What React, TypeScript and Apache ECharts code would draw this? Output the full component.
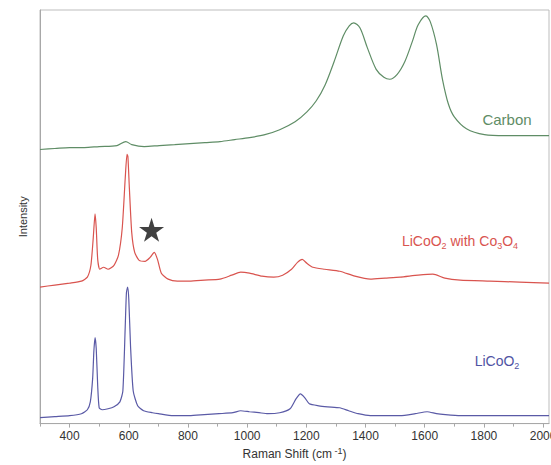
import React, { useEffect, useRef } from 'react';
import * as echarts from 'echarts';

const xTickValues = [400, 600, 800, 1000, 1200, 1400, 1600, 1800, 2000];
const xMinorTickValues = [300, 500, 700, 900, 1100, 1300, 1500, 1700, 1900];

const licooShift = [300, 350, 400, 440, 460, 470, 478, 482, 486, 490, 495, 500, 510, 530, 550, 570, 580, 588, 592, 596, 600, 606, 615, 630, 650, 680, 700, 750, 805, 855, 905, 952, 978, 1008, 1040, 1070, 1110, 1145, 1165, 1180, 1195, 1210, 1242, 1272, 1313, 1343, 1375, 1416, 1466, 1517, 1568, 1608, 1640, 1670, 1720, 1820, 1920, 2020];
const licooIntensity = [6, 7, 8, 10, 14, 22, 46, 73, 87, 76, 38, 16, 14, 15, 17, 22, 33, 98, 132, 138, 126, 78, 33, 18, 13, 11, 10, 8, 8, 9, 10, 11, 13, 12, 11, 10, 11, 15, 25, 30, 26, 20, 18, 17, 16, 13, 10, 8, 8, 8, 10, 12, 10, 9, 8, 8, 8, 8];

const mixShift = [300, 350, 400, 440, 460, 472, 480, 486, 490, 495, 502, 515, 530, 550, 565, 578, 588, 594, 597, 602, 610, 620, 635, 655, 672, 686, 697, 710, 733, 764, 805, 856, 908, 948, 978, 1008, 1050, 1090, 1120, 1150, 1170, 1186, 1202, 1222, 1262, 1313, 1364, 1416, 1466, 1517, 1578, 1628, 1668, 1720, 1820, 1920, 2020];
const mixIntensity = [138, 140, 142, 144, 148, 160, 188, 212, 198, 166, 156, 158, 156, 160, 170, 198, 248, 272, 270, 238, 193, 173, 165, 164, 168, 173, 166, 152, 146, 144, 144, 145, 146, 150, 153, 152, 149, 148, 150, 156, 163, 166, 162, 158, 156, 154, 149, 146, 147, 148, 150, 151, 147, 145, 144, 143, 142];

const carbonShift = [300, 350, 400, 450, 500, 560, 590, 610, 652, 703, 755, 806, 857, 908, 958, 1008, 1060, 1110, 1162, 1202, 1233, 1263, 1294, 1325, 1345, 1360, 1381, 1406, 1436, 1462, 1482, 1507, 1533, 1558, 1578, 1604, 1619, 1640, 1660, 1680, 1700, 1741, 1802, 1872, 2020];
const carbonIntensity = [277, 278, 279, 279, 280, 281, 285, 282, 280, 281, 282, 283, 284, 285, 287, 289, 292, 297, 305, 315, 326, 342, 366, 392, 402, 405, 400, 380, 358, 350, 348, 353, 366, 386, 403, 412, 406, 383, 348, 323, 310, 298, 292, 291, 291];

const starPoint = [677, 196];

const zip = (xs: number[], ys: number[]) => xs.map((x, i) => [x, ys[i]]);

const FONT = '"Liberation Sans", Arial, sans-serif';
const STAR = 'path://M50,0 L61,35 L98,35 L68,57 L79,91 L50,70 L21,91 L32,57 L2,35 L39,35 Z';

export default function App() {
  const ref = useRef<HTMLDivElement>(null);
  useEffect(() => {
    const chart = echarts.init(ref.current!, null, { renderer: 'svg' });
    const axisGray = '#a8a8a8';
    chart.setOption({
      animation: false,
      backgroundColor: '#ffffff',
      textStyle: { fontFamily: FONT },
      grid: { left: 40, top: 10, right: 51, bottom: 37, show: true, borderColor: '#bdbdbd', borderWidth: 1 },
      xAxis: [
        {
          type: 'value', min: 300, max: 2020,
          axisLine: { show: true, lineStyle: { color: axisGray } },
          axisTick: { show: true, customValues: xTickValues, length: 4, lineStyle: { color: axisGray } },
          axisLabel: { customValues: xTickValues, color: '#333', fontSize: 12, margin: 6, fontFamily: FONT, formatter: (v: number) => String(v) },
          splitLine: { show: false },
          name: '{n|Raman Shift (cm}{s| -1}{n|)}', nameLocation: 'middle', nameGap: 22,
          nameTextStyle: {
            rich: {
              n: { fontSize: 12, color: '#333', lineHeight: 15, fontFamily: FONT },
              s: { fontSize: 9, color: '#333', lineHeight: 9, verticalAlign: 'top', fontFamily: FONT },
            },
          },
        },
        {
          type: 'value', min: 300, max: 2020, position: 'bottom',
          axisLine: { show: false },
          axisTick: { show: true, customValues: xMinorTickValues, length: 3, lineStyle: { color: axisGray } },
          axisLabel: { show: false },
          splitLine: { show: false },
        },
      ],
      yAxis: {
        type: 'value', min: 0, max: 418,
        axisLine: { show: true, lineStyle: { color: axisGray } },
        axisTick: { show: false }, axisLabel: { show: false }, splitLine: { show: false },
        name: 'Intensity', nameLocation: 'middle', nameGap: 12, nameRotate: 90,
        nameTextStyle: { fontSize: 11, color: '#333', fontFamily: FONT },
      },
      series: [
        { type: 'line', name: 'LiCoO2', data: zip(licooShift, licooIntensity), showSymbol: false, symbol: 'none', smooth: 0.2, lineStyle: { color: '#5a5aa6', width: 1.2 } },
        { type: 'line', name: 'LiCoO2 with Co3O4', data: zip(mixShift, mixIntensity), showSymbol: false, symbol: 'none', smooth: 0.2, lineStyle: { color: '#d9544f', width: 1.2 } },
        { type: 'line', name: 'Carbon', data: zip(carbonShift, carbonIntensity), showSymbol: false, symbol: 'none', smooth: 0.3, lineStyle: { color: '#5f8d66', width: 1.2 } },
        { type: 'scatter', data: [starPoint], symbol: STAR, symbolSize: [25, 24], itemStyle: { color: '#111' } },
      ],
      graphic: [
        { type: 'text', x: 507, y: 119, style: { text: 'Carbon', fill: '#5f8d66', font: '15px "Liberation Sans", Arial, sans-serif', align: 'center', verticalAlign: 'middle' } },
        {
          type: 'text', x: 460, y: 241,
          style: {
            text: '{a|LiCoO}{b|2}{a| with Co}{b|3}{a|O}{b|4}', align: 'center', verticalAlign: 'middle',
            rich: {
              a: { fill: '#d9544f', fontSize: 14, fontFamily: FONT, lineHeight: 18 },
              b: { fill: '#d9544f', fontSize: 9, fontFamily: FONT, lineHeight: 10, verticalAlign: 'bottom' },
            },
          },
        },
        {
          type: 'text', x: 497, y: 361,
          style: {
            text: '{a|LiCoO}{b|2}', align: 'center', verticalAlign: 'middle',
            rich: {
              a: { fill: '#4f53a3', fontSize: 14, fontFamily: FONT, lineHeight: 18 },
              b: { fill: '#4f53a3', fontSize: 9, fontFamily: FONT, lineHeight: 10, verticalAlign: 'bottom' },
            },
          },
        },
      ],
    });
    return () => chart.dispose();
  }, []);
  return (
    <div style={{ position: 'absolute', left: 0, top: 0, width: 551, height: 465, overflow: 'hidden', background: '#fff' }}>
      <div ref={ref} style={{ width: 600, height: 465 }} />
    </div>
  );
}
